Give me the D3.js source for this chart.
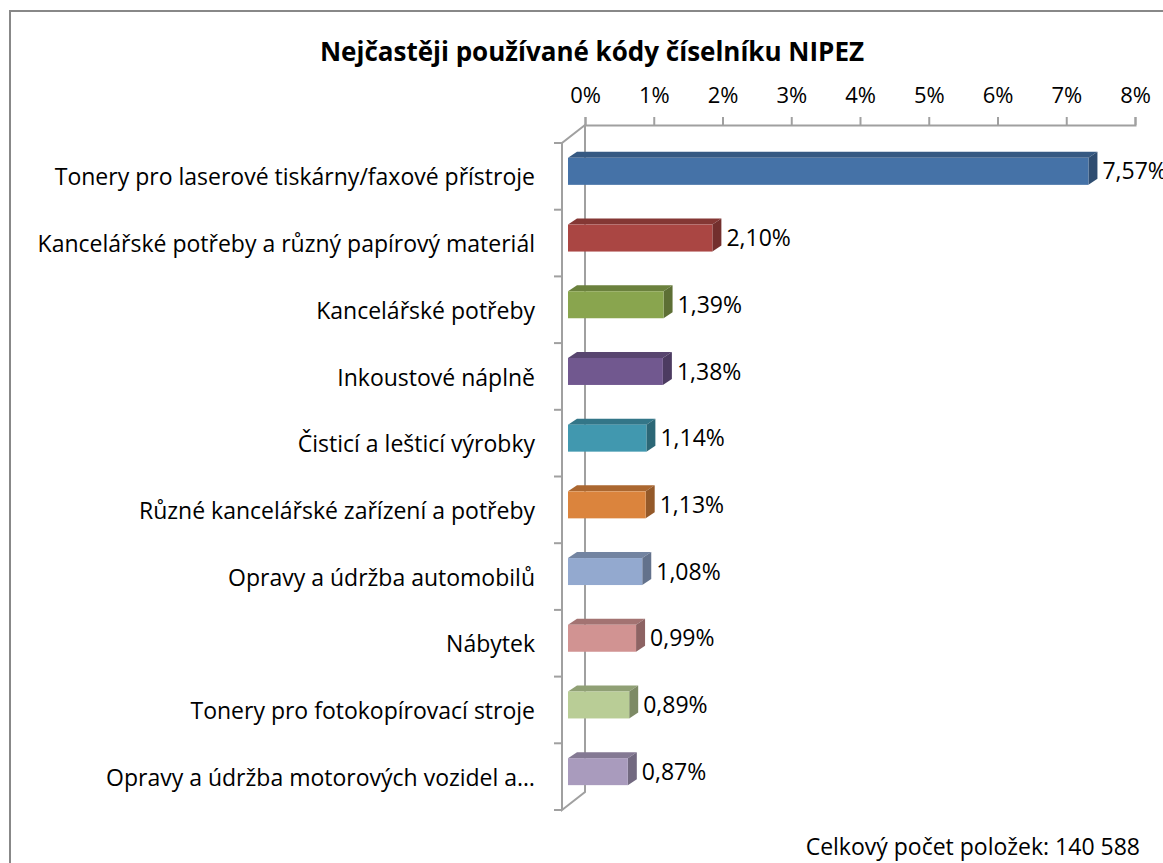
<!DOCTYPE html>
<html>
<head>
<meta charset="utf-8">
<script src="https://cdn.jsdelivr.net/npm/d3@7"></script>
<style>
  body { margin: 0; background: #fff; }
  text { font-family: "Open Sans", "Liberation Sans", sans-serif; fill: #000; }
</style>
</head>
<body>
<div id="chart"></div>
<script>
const categories = [
  'Tonery pro laserové tiskárny/faxové přístroje',
  'Kancelářské potřeby a různý papírový materiál',
  'Kancelářské potřeby',
  'Inkoustové náplně',
  'Čisticí a lešticí výrobky',
  'Různé kancelářské zařízení a potřeby',
  'Opravy a údržba automobilů',
  'Nábytek',
  'Tonery pro fotokopírovací stroje',
  'Opravy a údržba motorových vozidel a…'
];
const values = [7.57, 2.10, 1.39, 1.38, 1.14, 1.13, 1.08, 0.99, 0.89, 0.87];
const valueLabels = ['7,57%', '2,10%', '1,39%', '1,38%', '1,14%', '1,13%', '1,08%', '0,99%', '0,89%', '0,87%'];
const colors = ['#4572A7', '#AA4643', '#89A54E', '#71588F', '#4198AF', '#DB843D', '#93A9CF', '#D19392', '#B9CD96', '#A99BBD'];
const tickValues = [0, 1, 2, 3, 4, 5, 6, 7, 8];
const title = 'Nejčastěji používané kódy číselníku NIPEZ';
const footnote = 'Celkový počet položek: 140 588';

const width = 1163, height = 863;
const svg = d3.select('#chart').append('svg')
  .attr('width', width)
  .attr('height', height);

// chart frame
svg.append('rect')
  .attr('x', 10).attr('y', 11)
  .attr('width', 1170).attr('height', 880)
  .attr('fill', 'none')
  .attr('stroke', '#888')
  .attr('stroke-width', 2);

// back plane scale, front plane is shifted by depth
const x = d3.scaleLinear().domain([0, 8]).range([585, 1135]);
const y = d3.scaleBand().domain(categories).range([143, 810]);
const wall = { dx: -23, dy: 18 };
const barShift = -17;   // bar front face relative to back plane
const bd = { dx: 9, dy: -6 };  // bar depth
const barH = 27;

// left wall (3d)
const axisCol = '#a0a0a0';
const yTop = 125, yBot = 792;
svg.append('path')
  .attr('d', `M${x(0)},${yTop} V${yBot} L${x(0) + wall.dx},${yBot + wall.dy} V${yTop + wall.dy} Z`)
  .attr('fill', 'none')
  .attr('stroke', axisCol)
  .attr('stroke-width', 2);

// left axis ticks on the front edge
const yBounds = categories.map(c => y(c)).concat([y.range()[1]]);
svg.selectAll('.ytick')
  .data(yBounds)
  .enter().append('line')
    .attr('x1', x(0) + wall.dx - 8)
    .attr('x2', x(0) + wall.dx)
    .attr('y1', d => d)
    .attr('y2', d => d)
    .attr('stroke', axisCol)
    .attr('stroke-width', 2);

// top axis
const xAxis = d3.axisTop(x)
  .tickValues(tickValues)
  .tickSize(8)
  .tickPadding(14)
  .tickFormat(d => d + '%');

const gx = svg.append('g')
  .attr('transform', `translate(0, ${yTop})`)
  .call(xAxis);
gx.select('.domain').attr('stroke', axisCol).attr('stroke-width', 2);
gx.selectAll('.tick line').attr('stroke', axisCol).attr('stroke-width', 2);
gx.selectAll('.tick text')
  .attr('font-size', 22)
  .attr('font-family', '"Open Sans", "Liberation Sans", sans-serif')
  .style('fill', '#000');

// bars
const bars = svg.selectAll('.bar')
  .data(values)
  .enter().append('g')
    .attr('class', 'bar');

const fx0 = x(0) + barShift;
const fy = (d, i) => y(categories[i]) + y.bandwidth() / 2 - 5 - barH / 2;
const fx1 = d => x(d) + barShift;

// top face
bars.append('path')
  .attr('d', (d, i) => {
    const t = fy(d, i);
    return `M${fx0},${t} L${fx0 + bd.dx},${t + bd.dy} L${fx1(d) + bd.dx},${t + bd.dy} L${fx1(d)},${t} Z`;
  })
  .attr('fill', (d, i) => d3.color(colors[i]).darker(0.7));

// right face
bars.append('path')
  .attr('d', (d, i) => {
    const t = fy(d, i);
    return `M${fx1(d)},${t} L${fx1(d) + bd.dx},${t + bd.dy} L${fx1(d) + bd.dx},${t + bd.dy + barH} L${fx1(d)},${t + barH} Z`;
  })
  .attr('fill', (d, i) => d3.color(colors[i]).darker(1.1));

// front face
bars.append('rect')
  .attr('x', fx0)
  .attr('y', (d, i) => fy(d, i))
  .attr('width', d => fx1(d) - fx0)
  .attr('height', barH)
  .attr('fill', (d, i) => colors[i]);

// value labels
bars.append('text')
  .attr('x', d => fx1(d) + bd.dx + 5)
  .attr('y', (d, i) => fy(d, i) + barH / 2)
  .attr('dy', '0.35em')
  .attr('font-size', 23)
  .text((d, i) => valueLabels[i]);

// category labels
svg.selectAll('.cat')
  .data(categories)
  .enter().append('text')
    .attr('x', 535)
    .attr('y', d => y(d) + y.bandwidth() / 2 + 1)
    .attr('dy', '0.35em')
    .attr('text-anchor', 'end')
    .attr('font-size', 23)
    .text(d => d);

// title
svg.append('text')
  .attr('x', 592)
  .attr('y', 61)
  .attr('text-anchor', 'middle')
  .attr('font-size', 26)
  .attr('font-weight', 'bold')
  .text(title);

// footnote
svg.append('text')
  .attr('x', 1140)
  .attr('y', 855)
  .attr('text-anchor', 'end')
  .attr('font-size', 23)
  .text(footnote);
</script>
</body>
</html>
